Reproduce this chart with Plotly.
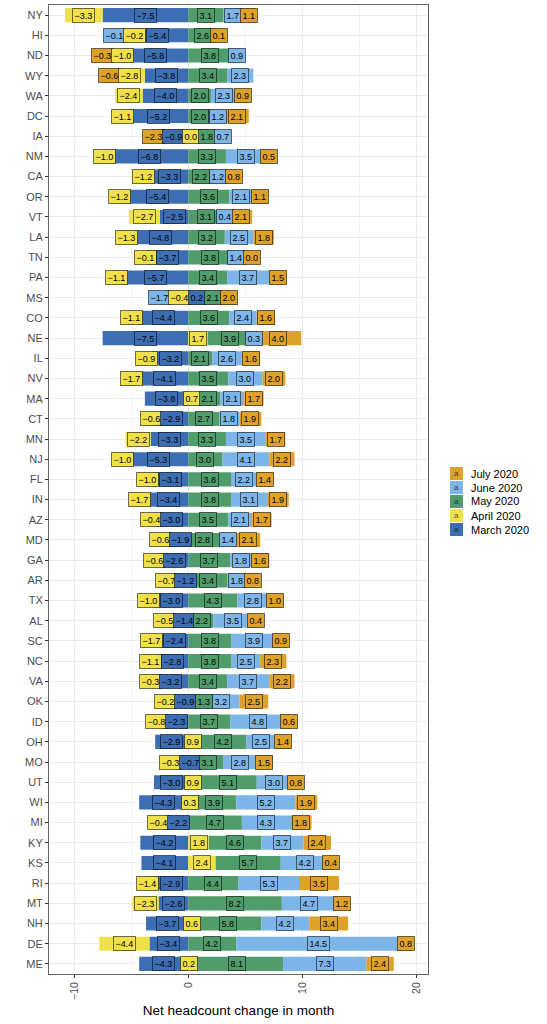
import plotly.graph_objects as go

states = ["NY", "HI", "ND", "WY", "WA", "DC", "IA", "NM", "CA", "OR", "VT", "LA",
          "TN", "PA", "MS", "CO", "NE", "IL", "NV", "MA", "CT", "MN", "NJ", "FL",
          "IN", "AZ", "MD", "GA", "AR", "TX", "AL", "SC", "NC", "VA", "OK", "ID",
          "OH", "MO", "UT", "WI", "MI", "KY", "KS", "RI", "MT", "NH", "DE", "ME"]

march = [-7.5, -5.4, -5.8, -3.8, -4.0, -5.2, -0.9, -6.8, -3.3, -5.4, -2.5, -4.8,
         -3.7, -5.7, 0.2, -4.4, -7.5, -3.2, -4.1, -3.8, -2.9, -3.3, -5.3, -3.1,
         -3.4, -3.0, -1.9, -2.6, -1.2, -3.0, -1.4, -2.4, -2.8, -3.2, -0.9, -2.3,
         -2.9, -0.7, -3.0, -4.3, -2.2, -4.2, -4.1, -2.9, -2.6, -3.7, -3.4, -4.3]
april = [-3.3, -0.2, -1.0, -2.8, -2.4, -1.1, 0.0, -1.0, -1.2, -1.2, -2.7, -1.3,
         -0.1, -1.1, -0.4, -1.1, 1.7, -0.9, -1.7, 0.7, -0.6, -2.2, -1.0, -1.0,
         -1.7, -0.4, -0.6, -0.6, -0.7, -1.0, -0.5, -1.7, -1.1, -0.3, -0.2, -0.8,
         0.9, -0.3, 0.9, 0.3, -0.4, 1.8, 2.4, -1.4, -2.3, 0.6, -4.4, 0.2]
may = [3.1, 2.6, 3.8, 3.4, 2.0, 2.0, 1.8, 3.3, 2.2, 3.6, 3.1, 3.2,
       3.8, 3.4, 2.1, 3.6, 3.9, 2.1, 3.5, 2.1, 2.7, 3.3, 3.0, 3.8,
       3.8, 3.5, 2.8, 3.7, 3.4, 4.3, 2.2, 3.8, 3.8, 3.4, 1.3, 3.7,
       4.2, 3.1, 5.1, 3.9, 4.7, 4.6, 5.7, 4.4, 8.2, 5.8, 4.2, 8.1]
june = [1.7, -0.1, 0.9, 2.3, 2.3, 1.2, 0.7, 3.5, 1.2, 2.1, 0.4, 2.5,
        1.4, 3.7, -1.7, 2.4, 0.3, 2.6, 3.0, 2.1, 1.8, 3.5, 4.1, 2.2,
        3.1, 2.1, 1.4, 1.8, 1.8, 2.8, 3.5, 3.9, 2.5, 3.7, 3.2, 4.8,
        2.5, 2.8, 3.0, 5.2, 4.3, 3.7, 4.2, 5.3, 4.7, 4.2, 14.5, 7.3]
july = [1.1, 0.1, -0.3, -0.6, 0.9, 2.1, -2.3, 0.5, 0.8, 1.1, 2.1, 1.8,
        0.0, 1.5, 2.0, 1.6, 4.0, 1.6, 2.0, 1.7, 1.9, 1.7, 2.2, 1.4,
        1.9, 1.7, 2.1, 1.6, 0.8, 1.0, 0.4, 0.9, 2.3, 2.2, 2.5, 0.6,
        1.4, 1.5, 0.8, 1.9, 1.8, 2.4, 0.4, 3.5, 1.2, 3.4, 0.8, 2.4]

months = ["March 2020", "April 2020", "May 2020", "June 2020", "July 2020"]
series = [march, april, may, june, july]
colors = ["#3D6EB4", "#F0E14A", "#519C6B", "#7DB5E8", "#DEA12A"]

FONT = "Liberation Sans, Arial, sans-serif"
X_RANGE = [-12.2, 21.0]
PLOT_W, PLOT_H = 379, 969
PX_PER_UNIT = PLOT_W / (X_RANGE[1] - X_RANGE[0])


def fmt(v):
    s = f"{abs(v):.1f}"
    return ("\u2212" + s) if v < 0 else s


def label_width(text):
    # rough pixel width of a label box, in data units
    px = 6.0
    for ch in text:
        px += 2.5 if ch == "." else 5.0
    return px / PX_PER_UNIT


fig = go.Figure()

for name, vals, color in zip(months, series, colors):
    fig.add_trace(
        go.Bar(
            x=vals,
            y=states,
            orientation="h",
            name=name,
            marker=dict(color=color, line=dict(width=0)),
            showlegend=False,
        )
    )

# labels sit at the middle of each stacked piece, then get a small 1D repel per row
seg_x, seg_y = [], []
for i, st in enumerate(states):
    pos_cum, neg_cum = 0.0, 0.0
    labels = []
    for vals, color in zip(series, colors):
        v = vals[i]
        if v >= 0:
            anchor = pos_cum + v / 2
            pos_cum += v
        else:
            anchor = neg_cum + v / 2
            neg_cum += v
        text = fmt(v)
        labels.append(dict(anchor=anchor, x=anchor, w=label_width(text), text=text, color=color))

    for _ in range(200):
        labels.sort(key=lambda d: d["x"])
        moved = False
        for a, b in zip(labels, labels[1:]):
            need = 0.85 * (a["w"] + b["w"]) / 2
            gap = b["x"] - a["x"]
            if gap < need - 1e-6:
                push = (need - gap) / 2
                a["x"] -= push
                b["x"] += push
                moved = True
        if not moved:
            break

    for d in labels:
        half = d["w"] / 2
        if d["anchor"] > d["x"] + half + 0.15:
            seg_x += [d["x"] + half, d["anchor"], None]
            seg_y += [st, st, None]
        elif d["anchor"] < d["x"] - half - 0.15:
            seg_x += [d["x"] - half, d["anchor"], None]
            seg_y += [st, st, None]
        fig.add_annotation(
            x=d["x"], y=st, xref="x", yref="y",
            text=d["text"],
            showarrow=False,
            bgcolor=d["color"],
            bordercolor="rgba(0,0,0,0.55)",
            borderwidth=1,
            borderpad=1.5,
            font=dict(size=9, color="black", family=FONT),
        )

fig.add_trace(
    go.Scatter(
        x=seg_x, y=seg_y,
        mode="lines",
        line=dict(color="black", width=0.8),
        showlegend=False,
        hoverinfo="skip",
    )
)

# hand-made legend (ggplot-like spacing: keys 14px apart, July on top)
key_top = 467
for k, (name, color) in enumerate(zip(months[::-1], colors[::-1])):
    y0 = key_top + 14 * k
    fig.add_shape(
        type="rect", xref="paper", yref="paper",
        x0=(450 - 49) / PLOT_W, x1=(463 - 49) / PLOT_W,
        y0=(974 - y0 - 13) / PLOT_H, y1=(974 - y0) / PLOT_H,
        fillcolor=color, line=dict(width=0),
    )
    fig.add_annotation(
        xref="paper", yref="paper",
        x=(456.5 - 49) / PLOT_W, y=(974 - y0 - 6.5) / PLOT_H,
        xanchor="center", yanchor="middle",
        text="a", showarrow=False,
        font=dict(size=8, color="rgba(0,0,0,0.7)", family=FONT),
    )
    fig.add_annotation(
        xref="paper", yref="paper",
        x=(469 - 49) / PLOT_W, y=(974 - y0 - 6.5) / PLOT_H,
        xanchor="left", yanchor="middle",
        text=name, showarrow=False,
        font=dict(size=11, color="black", family=FONT),
    )

fig.update_layout(
    width=547,
    height=1024,
    barmode="relative",
    bargap=0.3,
    showlegend=False,
    plot_bgcolor="white",
    paper_bgcolor="white",
    font=dict(family=FONT, color="#4D4D4D"),
    margin=dict(l=49, r=547 - 49 - PLOT_W, t=5, b=1024 - 5 - PLOT_H),
    xaxis=dict(
        range=X_RANGE,
        tickvals=[-10, 0, 10, 20],
        ticktext=["\u221210", "0", "10", "20"],
        tickangle=-90,
        tickfont=dict(size=10.5, color="#4D4D4D"),
        showgrid=True,
        gridcolor="#EBEBEB",
        minor=dict(tickvals=[-5, 5, 15], showgrid=True, gridcolor="#F3F3F3", ticks=""),
        zeroline=False,
        showline=True,
        linecolor="#666666",
        mirror=True,
        ticks="outside",
        ticklen=3,
        tickcolor="#333333",
        title=dict(text="Net headcount change in month",
                   font=dict(size=13.5, color="black"), standoff=6),
    ),
    yaxis=dict(
        autorange="reversed",
        categoryorder="array",
        categoryarray=states,
        tickfont=dict(size=11, color="#4D4D4D"),
        showgrid=True,
        gridcolor="#EBEBEB",
        zeroline=False,
        showline=True,
        linecolor="#666666",
        mirror=True,
        ticks="outside",
        ticklen=3,
        tickcolor="#333333",
    ),
)

fig.write_html(
    "out.html",
    config={"displayModeBar": False},
    post_script="document.body.style.margin='0px';",
)
